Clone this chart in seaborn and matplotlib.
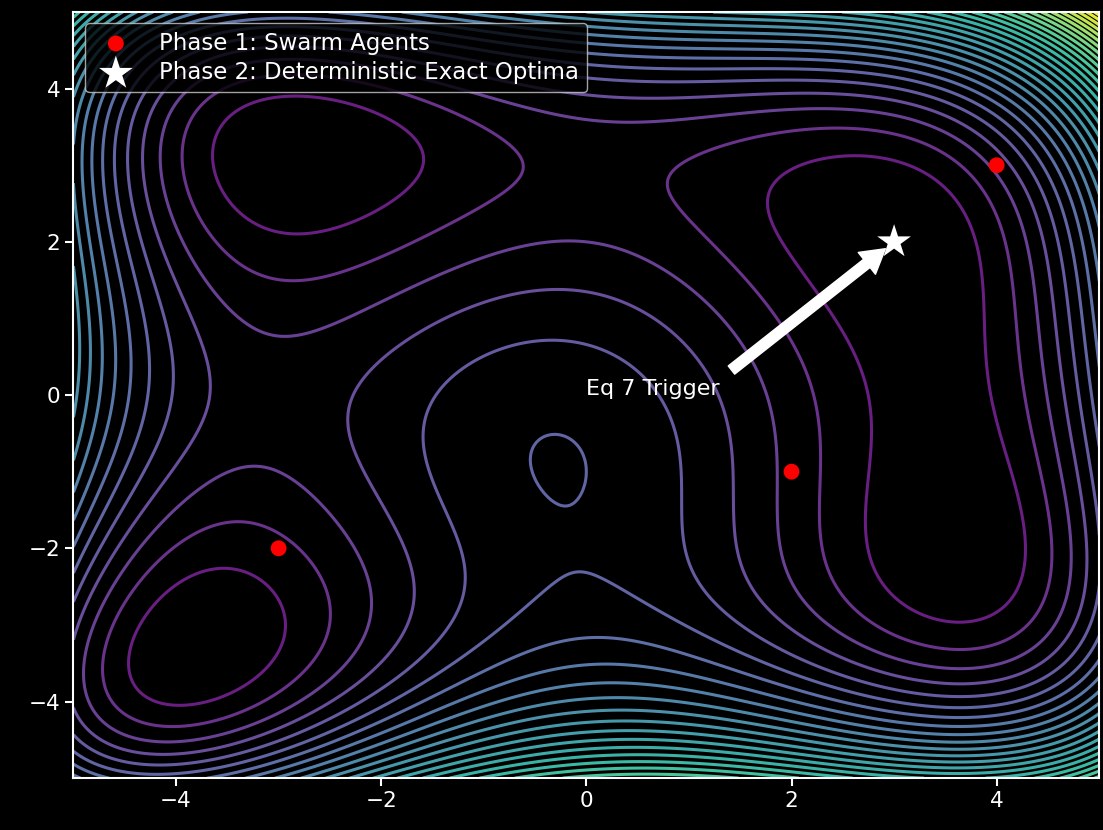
import numpy as np
import pandas as pd
import matplotlib
matplotlib.use("Agg")
import matplotlib.pyplot as plt
from matplotlib.colors import ListedColormap
import seaborn as sns

# Data
agent_x = [-3, 2, 4]
agent_y = [-2, -1, 3]
optima_x = [3]
optima_y = [2]
x_ticks = [-4, -2, 0, 2, 4]
y_ticks = [-4, -2, 0, 2, 4]
contour_levels = list(range(0, 900, 30))
annot_text = "Eq 7 Trigger"
annot_xy = (3, 2)
annot_xytext = (0, 0)

# Himmelblau surface
gx = np.linspace(-5, 5, 400)
gy = np.linspace(-5, 5, 400)
X, Y = np.meshgrid(gx, gy)
Z = (X**2 + Y - 11) ** 2 + (X + Y**2 - 7) ** 2

plt.style.use("dark_background")
plt.rcParams["font.family"] = ["DejaVu Sans"]

# slightly brightened viridis (reference appears lighter)
base = sns.color_palette("viridis", 256)
bright = ListedColormap(np.clip(np.array(base) ** 0.7, 0, 1))

fig = plt.figure(figsize=(11.03, 8.30), dpi=100)
ax = fig.add_axes([0.0666, 0.0625, 0.930, 0.923])
ax.set_facecolor("black")

ax.contour(X, Y, Z, levels=contour_levels, cmap=bright, linewidths=2.2,
           vmin=0, vmax=float(Z.max()))

df_agents = pd.DataFrame({"x": agent_x, "y": agent_y})
df_opt = pd.DataFrame({"x": optima_x, "y": optima_y})
sns.scatterplot(data=df_agents, x="x", y="y", ax=ax, color="red", s=130,
                edgecolor="none", label="Phase 1: Swarm Agents", zorder=5)
sns.scatterplot(data=df_opt, x="x", y="y", ax=ax, color="white", marker="*", s=650,
                edgecolor="none", label="Phase 2: Deterministic Exact Optima", zorder=6)

ax.annotate(annot_text, xy=annot_xy, xytext=annot_xytext, color="white", fontsize=16,
            arrowprops=dict(facecolor="white", edgecolor="white", shrink=0.05,
                            width=7.5, headwidth=20, headlength=17))

ax.set_xlim(-5, 5)
ax.set_ylim(-5, 5)
ax.set_xticks(x_ticks)
ax.set_yticks(y_ticks)
ax.set_xlabel("")
ax.set_ylabel("")
ax.tick_params(colors="white", labelsize=15.5, length=6, width=1.5)
for sp in ax.spines.values():
    sp.set_color("white")
    sp.set_linewidth(1.5)

leg = ax.legend(loc="upper left", fontsize=16.5, frameon=True, framealpha=0.8,
                facecolor="black", edgecolor="#cccccc", markerscale=1.0,
                borderpad=0.35, labelspacing=0.3, handletextpad=0.9)

fig.savefig("out.png", dpi=100, facecolor="black")
